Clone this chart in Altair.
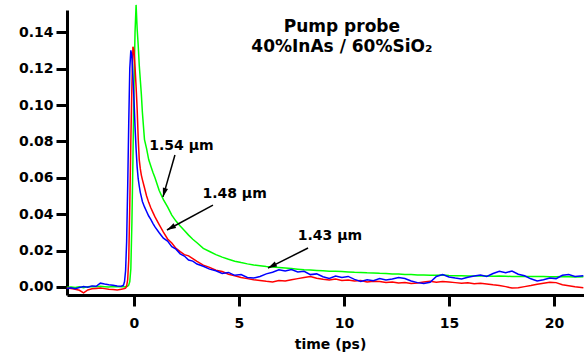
import altair as alt
import pandas as pd

# ---------------- data ----------------
time_ps = [
    -3.2, -3.0, -2.8, -2.6, -2.4, -2.2, -2.0, -1.8, -1.6, -1.4, -1.2, -1.0, -0.8, -0.6,
    -0.5, -0.45, -0.4, -0.35, -0.3, -0.25, -0.2, -0.15, -0.1, -0.05, 0.0, 0.05, 0.1, 0.15,
    0.2, 0.25, 0.3, 0.35, 0.4, 0.5, 0.6, 0.7, 0.8, 0.9, 1.0,
    1.2, 1.4, 1.6, 1.8, 2.0, 2.2, 2.4, 2.6, 2.8, 3.0,
    3.3, 3.6, 3.9, 4.2, 4.5, 4.8, 5.1, 5.4, 5.7, 6.0,
    6.3, 6.6, 6.9, 7.2, 7.5, 7.8, 8.1, 8.4, 8.7, 9.0,
    9.3, 9.6, 9.9, 10.2, 10.5, 10.8, 11.1, 11.4, 11.7, 12.0,
    12.3, 12.6, 12.9, 13.2, 13.5, 13.8, 14.1, 14.4, 14.7, 15.0,
    15.3, 15.6, 15.9, 16.2, 16.5, 16.8, 17.1, 17.4, 17.7, 18.0,
    18.3, 18.6, 18.9, 19.2, 19.5, 19.8, 20.1, 20.4, 20.7, 21.0, 21.4,
]

signal_154 = [  # green
    -0.0002, 0.0000, -0.0003, 0.0001, -0.0004, 0.0002, 0.0003, 0.0001, 0.0004, 0.0002, 0.0000, 0.0003, 0.0001, 0.0002,
    0.0002, 0.0000, 0.0003, 0.0002, 0.0005, 0.0010, 0.0030, 0.0100, 0.0350, 0.0700, 0.1100, 0.1400, 0.1550, 0.1420,
    0.1330, 0.1220, 0.1140, 0.1060, 0.0960, 0.0810, 0.0760, 0.0700, 0.0665, 0.0630, 0.0600,
    0.0530, 0.0480, 0.0440, 0.0395, 0.0362, 0.0335, 0.0310, 0.0285, 0.0262, 0.0243,
    0.0212, 0.0195, 0.0178, 0.0164, 0.0152, 0.0142, 0.0134, 0.0127, 0.0121, 0.0117,
    0.0113, 0.0110, 0.0107, 0.0104, 0.0101, 0.0098, 0.0095, 0.0093, 0.0091, 0.0089,
    0.0087, 0.0086, 0.0085, 0.0083, 0.0081, 0.0080, 0.0078, 0.0077, 0.0075, 0.0074,
    0.0072, 0.0071, 0.0069, 0.0068, 0.0066, 0.0066, 0.0065, 0.0064, 0.0066, 0.0063,
    0.0062, 0.0062, 0.0061, 0.0061, 0.0060, 0.0060, 0.0059, 0.0060, 0.0059, 0.0058,
    0.0058, 0.0057, 0.0058, 0.0057, 0.0057, 0.0056, 0.0056, 0.0057, 0.0056, 0.0055, 0.0056,
]

signal_148 = [  # red
    -0.0006, -0.0008, -0.0012, -0.0018, -0.0032, -0.0016, -0.0010, -0.0008, -0.0006, -0.0009, -0.0012, -0.0014, -0.0016, -0.0012,
    -0.0010, -0.0008, -0.0006, 0.0005, 0.0040, 0.0150, 0.0450, 0.0800, 0.1100, 0.1320, 0.1300, 0.1210, 0.1100, 0.0980,
    0.0820, 0.0700, 0.0650, 0.0615, 0.0590, 0.0545, 0.0500, 0.0465, 0.0435, 0.0410, 0.0385,
    0.0343, 0.0302, 0.0264, 0.0242, 0.0212, 0.0194, 0.0178, 0.0171, 0.0156, 0.0141,
    0.0120, 0.0108, 0.0092, 0.0085, 0.0070, 0.0062, 0.0052, 0.0046, 0.0040, 0.0036,
    0.0031, 0.0028, 0.0036, 0.0033, 0.0040, 0.0046, 0.0052, 0.0057, 0.0048, 0.0042,
    0.0038, 0.0044, 0.0036, 0.0039, 0.0033, 0.0036, 0.0028, 0.0032, 0.0030, 0.0025,
    0.0028, 0.0022, 0.0024, 0.0019, 0.0022, 0.0027, 0.0031, 0.0026, 0.0030, 0.0028,
    0.0024, 0.0020, 0.0023, 0.0018, 0.0021, 0.0017, 0.0012, 0.0008, 0.0002, -0.0006,
    -0.0004, 0.0002, 0.0008, 0.0015, 0.0021, 0.0026, 0.0024, 0.0012, 0.0007, 0.0001, -0.0004,
]

signal_143 = [  # blue
    -0.0008, -0.0004, -0.0009, -0.0003, 0.0002, -0.0001, 0.0006, 0.0004, 0.0021, 0.0016, 0.0012, 0.0010, 0.0006, 0.0004,
    0.0010, 0.0030, 0.0090, 0.0250, 0.0550, 0.0900, 0.1200, 0.1300, 0.1270, 0.1150, 0.1030, 0.0880, 0.0760, 0.0660,
    0.0595, 0.0555, 0.0520, 0.0495, 0.0470, 0.0440, 0.0415, 0.0390, 0.0372, 0.0350, 0.0330,
    0.0298, 0.0268, 0.0252, 0.0222, 0.0208, 0.0182, 0.0170, 0.0148, 0.0142, 0.0126,
    0.0114, 0.0098, 0.0089, 0.0074, 0.0080, 0.0064, 0.0068, 0.0052, 0.0049, 0.0058,
    0.0072, 0.0081, 0.0094, 0.0088, 0.0096, 0.0082, 0.0086, 0.0068, 0.0072, 0.0056,
    0.0047, 0.0060, 0.0052, 0.0058, 0.0042, 0.0031, 0.0040, 0.0034, 0.0046, 0.0038,
    0.0044, 0.0052, 0.0047, 0.0033, 0.0024, 0.0019, 0.0026, 0.0058, 0.0068, 0.0055,
    0.0049, 0.0044, 0.0053, 0.0060, 0.0066, 0.0058, 0.0074, 0.0086, 0.0078, 0.0088,
    0.0070, 0.0062, 0.0045, 0.0033, 0.0040, 0.0049, 0.0046, 0.0064, 0.0068, 0.0058, 0.0062,
]

series_labels = ["1.54 µm", "1.48 µm", "1.43 µm"]
series_colors = ["#00ff00", "#ff0000", "#0000ff"]

# annotation texts and where they sit (data units)
label_t = [2.26, 4.79, 9.33]
label_v = [0.0753, 0.0487, 0.0258]
arrow_t1 = [1.95, 3.76, 8.29]
arrow_v1 = [0.0725, 0.0450, 0.0214]
arrow_t2 = [1.38, 1.57, 6.38]
arrow_v2 = [0.0495, 0.0313, 0.0104]
arrow_angle = [196, 241.5, 243.4]

title_lines = ["Pump probe", "40%InAs / 60%SiO₂"]
title_t = [9.9, 9.9]
title_v = [0.1403, 0.1293]

x_ticks = [0, 5, 10, 15, 20]
y_ticks = [0.0, 0.02, 0.04, 0.06, 0.08, 0.10, 0.12, 0.14]

# ---------------- chart ----------------
FONT = "DejaVu Sans"
xs = alt.Scale(domain=[-3.19, 21.43], nice=False, zero=False)
ys = alt.Scale(domain=[-0.0044, 0.1522], nice=False, zero=False)

x_axis = alt.Axis(values=x_ticks, format="d", title="time (ps)", grid=False,
                  domainColor="black", domainWidth=3, tickColor="black", tickWidth=3,
                  tickSize=11, labelFont=FONT, labelFontWeight="bold", labelFontSize=14,
                  labelColor="black", labelPadding=10, titleFont=FONT, titleFontWeight="bold",
                  titleFontSize=14, titleColor="black", titlePadding=7, titleX=263)
y_axis = alt.Axis(values=y_ticks, format=".2f", title=None, grid=False,
                  domainColor="black", domainWidth=3, tickColor="black", tickWidth=3,
                  tickSize=11, labelFont=FONT, labelFontWeight="bold", labelFontSize=14,
                  labelColor="black", labelPadding=3)

layers = []
for name, vals, col in zip(series_labels, [signal_154, signal_148, signal_143], series_colors):
    df = pd.DataFrame({"t": time_ps, "v": vals})
    layers.append(
        alt.Chart(df).mark_line(color=col, strokeWidth=1.5, clip=False).encode(
            x=alt.X("t:Q", scale=xs, axis=x_axis),
            y=alt.Y("v:Q", scale=ys, axis=y_axis),
            order="t:Q",
        )
    )

arrows = pd.DataFrame({"t1": arrow_t1, "v1": arrow_v1, "t2": arrow_t2, "v2": arrow_v2,
                       "ang": arrow_angle})
layers.append(
    alt.Chart(arrows).mark_rule(color="black", strokeWidth=1.5).encode(
        x=alt.X("t1:Q", scale=xs), y=alt.Y("v1:Q", scale=ys), x2="t2:Q", y2="v2:Q")
)
layers.append(
    alt.Chart(arrows).mark_point(shape="M0,0L0.3,1L-0.3,1Z", filled=True, size=324,
                                 color="black", opacity=1).encode(
        x=alt.X("t2:Q", scale=xs), y=alt.Y("v2:Q", scale=ys),
        angle=alt.Angle("ang:Q", scale=None))
)

labels = pd.DataFrame({"t": label_t, "v": label_v, "txt": series_labels})
layers.append(
    alt.Chart(labels).mark_text(font=FONT, fontWeight="bold", fontSize=14, color="black",
                                align="center", baseline="alphabetic").encode(
        x=alt.X("t:Q", scale=xs), y=alt.Y("v:Q", scale=ys), text="txt:N")
)

titles = pd.DataFrame({"t": title_t, "v": title_v, "txt": title_lines})
layers.append(
    alt.Chart(titles).mark_text(font=FONT, fontWeight="bold", fontSize=17, color="black",
                                align="center", baseline="alphabetic").encode(
        x=alt.X("t:Q", scale=xs), y=alt.Y("v:Q", scale=ys), text="txt:N")
)

chart = alt.layer(*layers).properties(
    width=517, height=285,
    autosize=alt.AutoSizeParams(type="none"),
    padding={"left": 67, "top": 10, "right": 0, "bottom": 61},
    background="white",
).configure_view(stroke=None)

chart.save("out.html", embed_options={"renderer": "svg", "actions": False})
